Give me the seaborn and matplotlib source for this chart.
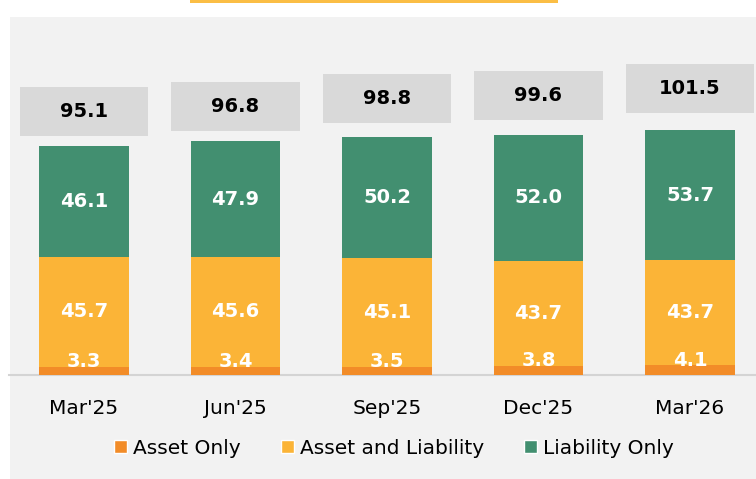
import matplotlib
matplotlib.use("Agg")
import matplotlib.pyplot as plt
from matplotlib.patches import Rectangle, Patch
import seaborn as sns
import pandas as pd

# datos del gráfico
quarters = ["Mar'25", "Jun'25", "Sep'25", "Dec'25", "Mar'26"]
asset_only = [3.3, 3.4, 3.5, 3.8, 4.1]
asset_liab = [45.7, 45.6, 45.1, 43.7, 43.7]
liab_only = [46.1, 47.9, 50.2, 52.0, 53.7]
totals = [95.1, 96.8, 98.8, 99.6, 101.5]

# separación de las cajas de total sobre cada barra (en unidades del eje)
box_gap = [14.2, 14.6, 15.9, 16.4, 17.4]

c_asset = "#F28C28"
c_both = "#FBB437"
c_liab = "#428F70"

sns.set_style("white")
plt.rcParams["font.family"] = ["DejaVu Sans"]

df = pd.DataFrame({
    "quarter": quarters,
    "a": asset_only,
    "ab": [a + b for a, b in zip(asset_only, asset_liab)],
    "total": [a + b + c for a, b, c in zip(asset_only, asset_liab, liab_only)],
})

fig = plt.figure(figsize=(7.56, 4.79), dpi=100)
fig.patch.set_facecolor("white")
# fondo gris y la línea amarilla de arriba (por debajo de los ejes)
fig.patches.append(Rectangle((10 / 756, 0), 1, (479 - 17) / 479, transform=fig.transFigure,
                             facecolor="#F2F2F2", edgecolor="none", zorder=-2))
fig.patches.append(Rectangle((190 / 756, (479 - 3) / 479), 368 / 756, 3 / 479, transform=fig.transFigure,
                             facecolor="#FBBE45", edgecolor="none", zorder=-2))

ax = fig.add_axes([9 / 756, 104 / 479, 747 / 756, 355 / 479])
ax.set_facecolor("none")

# barras apiladas: se dibujan los acumulados encima uno de otro
w = 0.59
sns.barplot(data=df, x="quarter", y="total", color=c_liab, width=w, saturation=1, ax=ax,
            zorder=2, edgecolor="none", linewidth=0)
sns.barplot(data=df, x="quarter", y="ab", color=c_both, width=w, saturation=1, ax=ax,
            zorder=3, edgecolor="none", linewidth=0)
sns.barplot(data=df, x="quarter", y="a", color=c_asset, width=w, saturation=1, ax=ax,
            zorder=4, edgecolor="none", linewidth=0)

ax.set_xlim(-0.495, 4.436)
ax.set_ylim(0, 147.3)

for i in range(len(quarters)):
    # etiquetas dentro de las barras
    ax.annotate(f"{asset_only[i]:.1f}", (i, asset_only[i] / 2), xytext=(0, 7), textcoords="offset points",
                ha="center", va="center", color="white", fontsize=14, fontweight="bold", zorder=6)
    ax.text(i, asset_only[i] + asset_liab[i] / 2, f"{asset_liab[i]:.1f}", ha="center", va="center",
            color="white", fontsize=14, fontweight="bold", zorder=6)
    ax.text(i, asset_only[i] + asset_liab[i] + liab_only[i] / 2, f"{liab_only[i]:.1f}", ha="center",
            va="center", color="white", fontsize=14, fontweight="bold", zorder=6)
    # caja gris con el total
    yc = totals[i] + box_gap[i]
    ax.add_patch(Rectangle((i - 0.425, yc - 10.15), 0.85, 20.3, facecolor="#D9D9D9",
                           edgecolor="none", zorder=5, clip_on=False))
    ax.text(i, yc, f"{totals[i]:.1f}", ha="center", va="center", color="black",
            fontsize=14, fontweight="bold", zorder=6)

sns.despine(ax=ax, left=True, top=True, right=True)
ax.spines["bottom"].set_color("#D4D4D4")
ax.spines["bottom"].set_linewidth(1.5)
ax.set_yticks([])
ax.set_xlabel("")
ax.set_ylabel("")
ax.tick_params(axis="x", length=0, pad=17, labelsize=14.5, colors="black")

handles = [Patch(facecolor=c_asset, label="Asset Only"),
           Patch(facecolor=c_both, label="Asset and Liability"),
           Patch(facecolor=c_liab, label="Liability Only")]
fig.legend(handles=handles, loc="center", bbox_to_anchor=(394 / 756, (479 - 448) / 479), ncol=3,
           frameon=False, fontsize=14.5, handlelength=0.65, handleheight=0.65, handletextpad=0.3,
           columnspacing=2.0, labelcolor="black")

fig.savefig("out.png", dpi=100, facecolor=fig.get_facecolor())
